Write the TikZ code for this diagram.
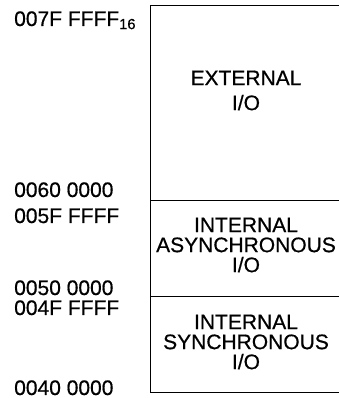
\documentclass[tikz,border=0pt]{standalone}
\usepackage{fontspec}
\setmainfont[FakeBold=0.6]{Liberation Sans}
\tikzset{
  region/.style={draw,line width=1pt,minimum width=191pt,inner sep=0pt,anchor=south west},
  regtext/.style={align=center,font=\fontsize{21}{20}\selectfont,inner sep=0pt},
  addrlabel/.style={anchor=base west,font=\fontsize{21}{20}\selectfont,inner sep=0pt}
}
\begin{document}
\begin{tikzpicture}[x=1pt,y=1pt]
    \useasboundingbox (0,0) rectangle (339,398);
    % memory regions (right edge falls outside the page)
    \node[region,minimum height=195pt] (ext) at (150,197) {};
    \node[region,minimum height=96pt] (async) at (150,101) {};
    \node[region,minimum height=96pt] (sync) at (150,5) {};
    % region names
    \node[regtext] (exttext) at ([yshift=12.5pt]ext.center) {EXTERNAL\\[5pt]I/O};
    \node[regtext] (asynctext) at ([yshift=3.5pt]async.center) {INTERNAL\\ASYNCHRONOUS\\I/O};
    \node[regtext] (synctext) at ([yshift=2.5pt]sync.center) {INTERNAL\\SYNCHRONOUS\\I/O};
    % addresses
    \foreach \lbl/\yb [count=\i] in {{007F FFFF\textsubscript{16}}/372,{0060 0000}/201,{005F FFFF}/175,{0050 0000}/103,{004F FFFF}/83,{0040 0000}/3}
        \node[addrlabel] (addr\i) at (14,\yb) {\lbl};
\end{tikzpicture}
\end{document}
